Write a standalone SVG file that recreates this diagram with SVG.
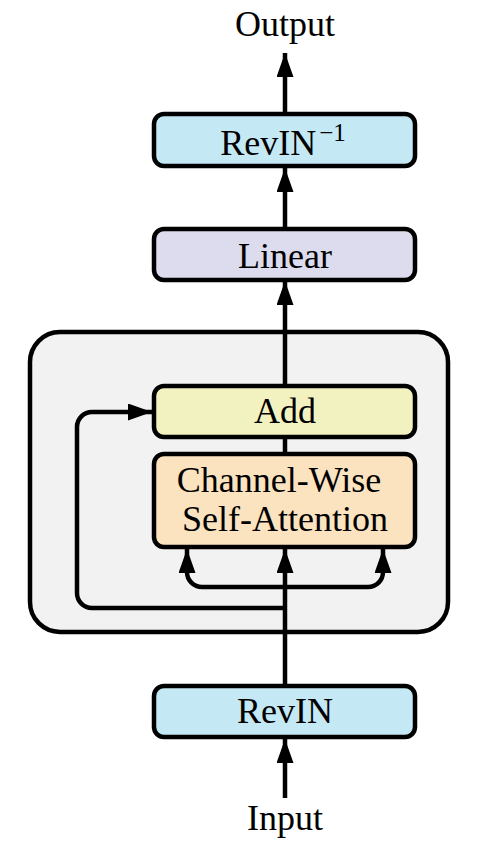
<svg xmlns="http://www.w3.org/2000/svg" width="478" height="852" viewBox="0 0 478 852">
<style>
text{font-family:"Liberation Serif","Times New Roman",serif;font-size:36px;fill:#000;text-anchor:middle}
.box{stroke:#000;stroke-width:4.5}
.ln{fill:none;stroke:#000;stroke-width:4.5}
</style>
<defs>
<marker id="ah" markerUnits="userSpaceOnUse" markerWidth="26" markerHeight="18" refX="24" refY="8.5" orient="auto">
<path d="M0,0 L24,8.5 L0,17 z" fill="#000"/>
</marker>
</defs>
<g id="container">
<rect x="30" y="332" width="418" height="300" rx="30" fill="#f2f2f2" class="box"/>
</g>
<g id="connectors">
<path class="ln" d="M285,798 V739" marker-end="url(#ah)"/>
<path class="ln" d="M285,685 V549" marker-end="url(#ah)"/>
<path class="ln" d="M285,587 H202 A15,15 0 0 1 187,572 V549" marker-end="url(#ah)"/>
<path class="ln" d="M285,587 H368 A15,15 0 0 0 383,572 V549" marker-end="url(#ah)"/>
<path class="ln" d="M285,608 H92 A15,15 0 0 1 77,593 V427 A15,15 0 0 1 92,412 H152" marker-end="url(#ah)"/>
<path class="ln" d="M285,453 V438"/>
<path class="ln" d="M285,385 V281" marker-end="url(#ah)"/>
<path class="ln" d="M285,228 V168" marker-end="url(#ah)"/>
<path class="ln" d="M285,113 V53" marker-end="url(#ah)"/>
</g>
<g id="output"><text x="285" y="36">Output</text></g>
<g id="revin-inv">
<rect x="154" y="114" width="261" height="52" rx="10" fill="#c5e8f5" class="box"/>
<text x="283" y="155">RevIN<tspan dx="3" dy="-14" font-size="25">−1</tspan></text>
</g>
<g id="linear">
<rect x="154" y="229" width="261" height="51" rx="10" fill="#dcdcee" class="box"/>
<text x="285" y="268">Linear</text>
</g>
<g id="add">
<rect x="154" y="386" width="261" height="51" rx="10" fill="#f2f2c0" class="box"/>
<text x="285" y="423">Add</text>
</g>
<g id="attention">
<rect x="154" y="454" width="261" height="93" rx="10" fill="#fce3c0" class="box"/>
<text x="279" y="492">Channel-Wise</text>
<text x="285" y="531">Self-Attention</text>
</g>
<g id="revin">
<rect x="154" y="686" width="261" height="51" rx="10" fill="#c5e8f5" class="box"/>
<text x="285" y="723">RevIN</text>
</g>
<g id="input"><text x="285" y="830">Input</text></g>
</svg>
